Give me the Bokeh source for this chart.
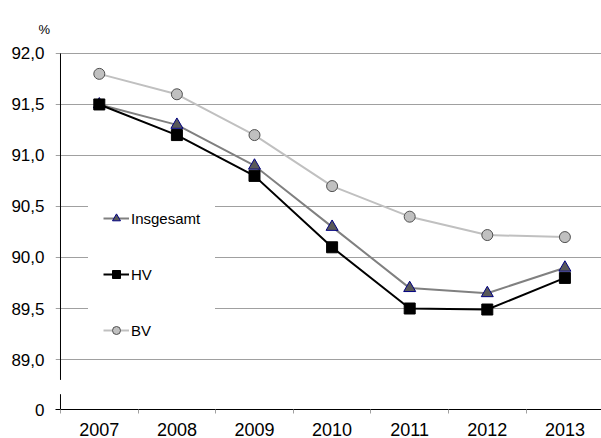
from bokeh.plotting import figure
from bokeh.models import (Range1d, FixedTicker, CustomJSTickFormatter, Legend,
                          LegendItem)
from bokeh.embed import file_html
from bokeh.resources import INLINE

# ---- data ----
years = ["2007", "2008", "2009", "2010", "2011", "2012", "2013"]
insgesamt = [91.5, 91.3, 90.9, 90.3, 89.7, 89.65, 89.9]
hv = [91.5, 91.2, 90.8, 90.1, 89.5, 89.49, 89.8]
bv = [91.8, 91.6, 91.2, 90.7, 90.4, 90.22, 90.2]
y_grid_values = [89.0, 89.5, 90.0, 90.5, 91.0, 91.5, 92.0]
y_tick_labels = ["0", "89,0", "89,5", "90,0", "90,5", "91,0", "91,5", "92,0"]
unit_label = "%"

# axis-break layout: position where the "0" label sits below the break
Y0 = 88.51
BREAK_TOP = 88.80
BREAK_BOTTOM = 88.66

FONT = "Liberation Sans"
xs = list(range(len(years)))

p = figure(width=601, height=438, output_backend="svg", toolbar_location=None,
           x_range=Range1d(-0.5644, 6.4716), y_range=Range1d(Y0, 92.127),
           min_border_left=55, min_border_right=0, min_border_top=40,
           min_border_bottom=29)
p.outline_line_color = None
p.background_fill_color = "white"
p.border_fill_color = "white"

# unit label as title
p.title.text = unit_label
p.title.align = "left"
p.title.offset = -17
p.title.text_font = FONT
p.title.text_font_size = "13px"
p.title.text_font_style = "normal"
p.title.text_color = "black"
p.title.standoff = 8

# grid
p.xgrid.visible = False
p.ygrid.ticker = FixedTicker(ticks=y_grid_values)
p.ygrid.grid_line_color = "#a0a0a0"
p.ygrid.grid_line_width = 1

# x axis
p.xaxis.ticker = FixedTicker(ticks=xs, minor_ticks=[i - 0.5 for i in range(len(years) + 1)])
p.xaxis.formatter = CustomJSTickFormatter(args=dict(labs=years),
                                          code="return labs[Math.round(tick)];")
p.xaxis.major_tick_out = 0
p.xaxis.major_tick_in = 0
p.xaxis.minor_tick_out = 4
p.xaxis.minor_tick_in = 0
p.xaxis.minor_tick_line_color = "#a0a0a0"
p.xaxis.axis_line_color = "black"
p.xaxis.axis_line_width = 1
p.xaxis.major_label_text_font = FONT
p.xaxis.major_label_text_font_size = "18px"
p.xaxis.major_label_text_color = "black"
p.xaxis.major_label_standoff = 9

# y axis
ytick_vals = [Y0] + y_grid_values
p.yaxis.ticker = FixedTicker(ticks=ytick_vals)
p.yaxis.formatter = CustomJSTickFormatter(
    args=dict(tv=ytick_vals, tl=y_tick_labels),
    code="let b=0; for (let i=0;i<tv.length;i++){ if (Math.abs(tv[i]-tick) < Math.abs(tv[b]-tick)) b=i; } return tl[b];")
p.yaxis.axis_line_color = None
p.yaxis.major_tick_out = 0
p.yaxis.major_tick_in = 0
p.yaxis.minor_tick_out = 0
p.yaxis.minor_tick_in = 0
p.yaxis.major_label_text_font = FONT
p.yaxis.major_label_text_font_size = "17px"
p.yaxis.major_label_text_color = "black"
p.yaxis.major_label_standoff = 11

# broken y-axis line
p.segment(x0=[-0.5, -0.5], y0=[92.0, BREAK_BOTTOM], x1=[-0.5, -0.5], y1=[BREAK_TOP, Y0],
          line_color="black", line_width=1)

# series
l_bv = p.line(xs, bv, line_color="#c0c0c0", line_width=2)
m_bv = p.scatter(xs, bv, marker="circle", size=11, fill_color="#c0c0c0",
                 line_color="#505050", line_width=1)
l_ins = p.line(xs, insgesamt, line_color="#808080", line_width=2)
m_ins = p.scatter(xs, insgesamt, marker="triangle", size=12, fill_color="#595959",
                  line_color="#000080", line_width=1)
l_hv = p.line(xs, hv, line_color="black", line_width=2)
m_hv = p.scatter(xs, hv, marker="square", size=11, fill_color="black",
                 line_color="black", line_width=1)

legend = Legend(items=[
    LegendItem(label="Insgesamt", renderers=[l_ins, m_ins]),
    LegendItem(label="HV", renderers=[l_hv, m_hv]),
    LegendItem(label="BV", renderers=[l_bv, m_bv]),
], location=(33, 54))
legend.label_text_font = FONT
legend.label_text_font_size = "15px"
legend.label_text_color = "black"
legend.glyph_width = 26
legend.glyph_height = 20
legend.label_height = 20
legend.label_standoff = 2
legend.spacing = 36
legend.padding = 15
legend.margin = 0
legend.border_line_alpha = 0
legend.background_fill_color = "white"
legend.background_fill_alpha = 1
p.add_layout(legend)

open("out.html", "w").write(file_html(p, INLINE))
